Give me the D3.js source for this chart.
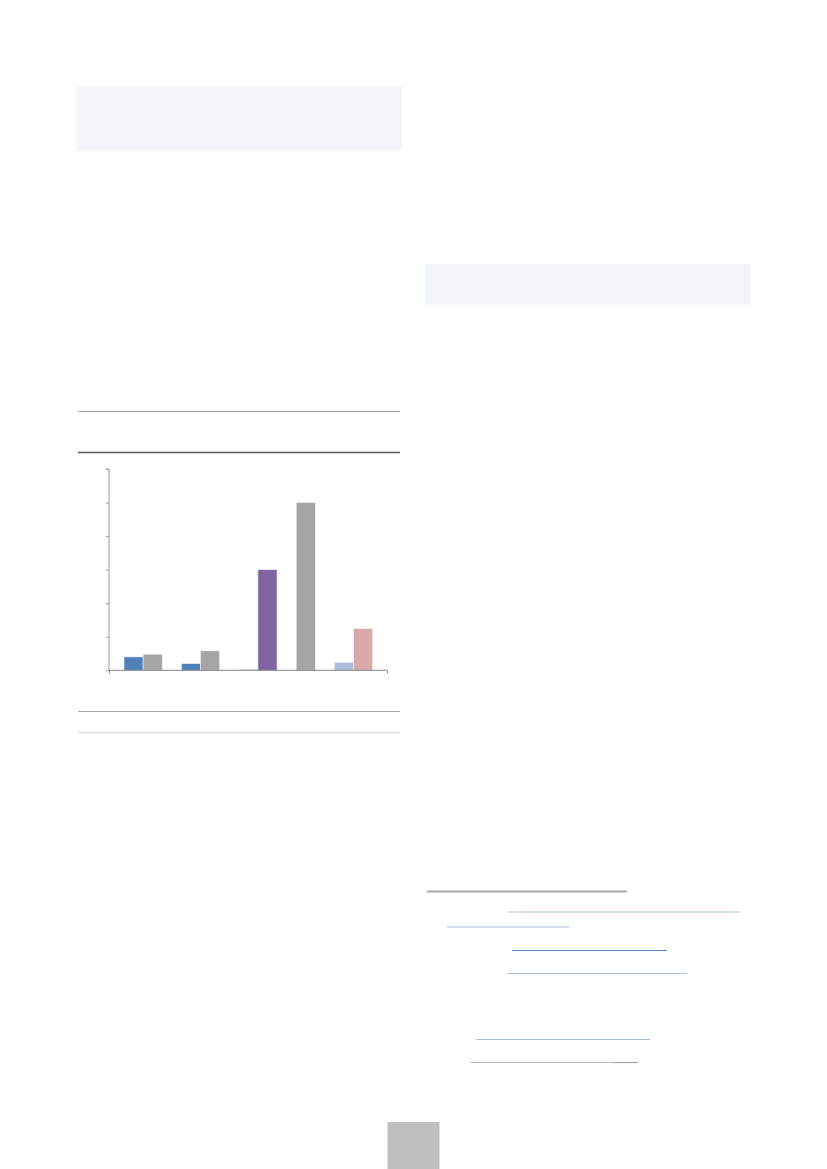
<!DOCTYPE html>
<html>
<head>
<meta charset="utf-8">
<script src="https://cdn.jsdelivr.net/npm/d3@7"></script>
<style>
  html, body { margin: 0; padding: 0; background: #ffffff; }
  svg { display: block; }
</style>
</head>
<body>
<svg id="page" width="827" height="1169"></svg>
<script>
// ---- data (labels are not legible in the reference) ----
const categories = ["G1", "G2", "G3", "G4", "G5"];
const firstSeries  = [4.0, 2.0, 0.5, null, 2.4];
const secondSeries = [4.8, 5.8, 30.0, 50.0, 12.4];
const yTicks = [0, 10, 20, 30, 40, 50, 60];

// ---- styles ----
const firstColors  = ["#4f81bd", "#4f81bd", "#e4e4e4", "#4f81bd", "#a9bcda"];
const secondColors = ["#a5a5a5", "#a5a5a5", "#8064a2", "#a5a5a5", "#d9a9a9"];

const svg = d3.select("#page");

// page decorations (blank text blocks)
svg.append("rect").attr("x", 76.5).attr("y", 86.5).attr("width", 325.5).attr("height", 64)
  .attr("fill", "#f2f5fa");
svg.append("rect").attr("x", 425).attr("y", 264).attr("width", 325.5).attr("height", 40.5)
  .attr("fill", "#f2f5fa");

// chart frame lines
const hline = (x1, x2, y, c, w) => svg.append("line")
  .attr("x1", x1).attr("x2", x2).attr("y1", y).attr("y2", y)
  .attr("stroke", c).attr("stroke-width", w);
hline(78, 400, 411.5, "#a6a6a6", 1);
hline(78, 400, 452.5, "#595959", 1.3);
hline(78, 400, 711.5, "#a6a6a6", 1);
hline(78, 400, 732.5, "#e2e2e2", 2);

// ---- bar chart ----
const plot = { left: 109, right: 387, top: 469, bottom: 670.3 };

const y = d3.scaleLinear().domain([0, 60]).range([plot.bottom, plot.top]);

// build slot keys: bars of each category, a spacer between categories
const bars = [];
const slots = [];
categories.forEach((c, i) => {
  if (i > 0) slots.push("gap" + i);
  if (firstSeries[i] !== null) {
    slots.push(c + "-a");
    bars.push({ key: c + "-a", value: firstSeries[i], color: firstColors[i] });
  }
  if (secondSeries[i] !== null) {
    slots.push(c + "-b");
    bars.push({ key: c + "-b", value: secondSeries[i], color: secondColors[i] });
  }
});

const x = d3.scaleBand().domain(slots).range([124, 372.7]).padding(0);

const g = svg.append("g");

g.selectAll("rect.bar").data(bars).enter().append("rect")
  .attr("class", "bar")
  .attr("x", d => x(d.key))
  .attr("width", x.bandwidth())
  .attr("y", d => y(d.value))
  .attr("height", d => y(0) - y(d.value))
  .attr("fill", d => d.color)
  .attr("stroke", "#f4f4f4")
  .attr("stroke-width", 0.6);

// y axis
const yAxis = g.append("g")
  .attr("transform", `translate(${plot.left},0)`)
  .call(d3.axisLeft(y).tickValues(yTicks).tickSize(3).tickFormat(""));
yAxis.selectAll("path, line").attr("stroke", "#9a9a9a");
yAxis.select(".domain").attr("d", `M-3,${y(60)}H0V${y(0)}`);

// x axis
const xEnds = d3.scaleLinear().domain([0, 1]).range([plot.left, plot.right]);
const xAxis = g.append("g")
  .attr("transform", `translate(0,${plot.bottom})`)
  .call(d3.axisBottom(xEnds).tickValues([0, 1]).tickSize(3).tickFormat(""));
xAxis.selectAll("path, line").attr("stroke", "#868686");
xAxis.select(".domain").attr("d", `M${plot.left},0H${plot.right}`);

// ---- footnotes (separator + link underlines) ----
hline(427, 627, 891.5, "#a6a6a6", 2);
const linkLines = [
  [508, 740, 912],
  [447, 569, 927],
  [512, 667, 950.5],
  [508, 687, 973.5],
  [476, 650, 1039.5],
  [470, 613, 1062.5]
];
linkLines.forEach(([a, b, yy], i) => {
  hline(a, b, yy, i === 2 ? "#5b8cc6" : "#a8c0e0", 1.2);
});
hline(613, 638, 1062.5, "#a6a6a6", 1.2);

// page number box
svg.append("rect").attr("x", 387.5).attr("y", 1122).attr("width", 52).attr("height", 47)
  .attr("fill", "#bfbfbf");
</script>
</body>
</html>
